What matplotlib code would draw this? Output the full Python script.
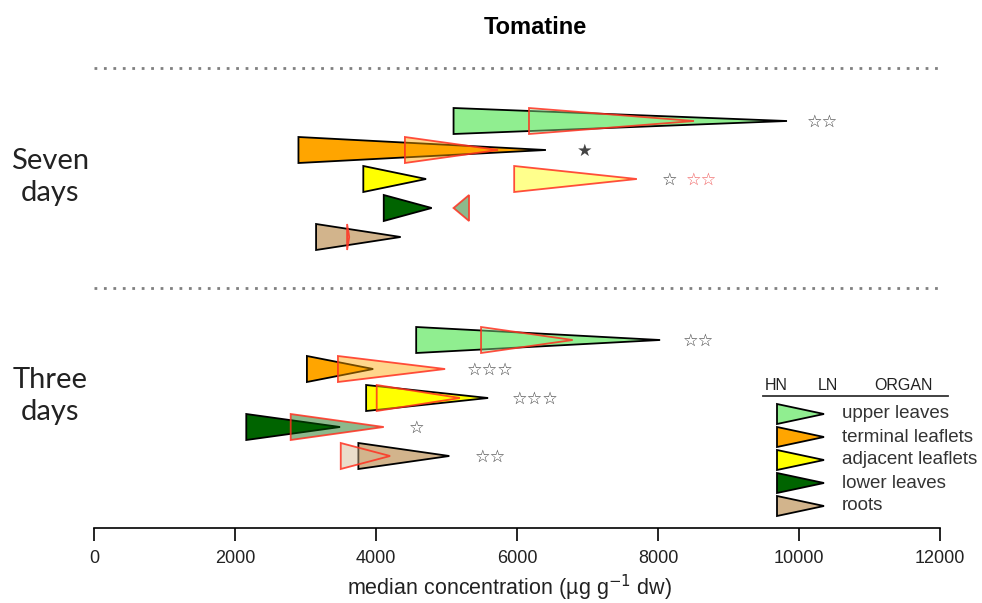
import matplotlib
matplotlib.use('Agg')
import matplotlib.pyplot as plt
from matplotlib.patches import Polygon

# ---------------- data ----------------
organs = ['upper leaves', 'terminal leaflets', 'adjacent leaflets', 'lower leaves', 'roots']
organ_colors = ['#90EE90', '#FFA500', '#FFFF00', '#006400', '#D2B48C']
groups = ['Seven\ndays', 'Three\ndays']

# triangles: base (start) -> apex (end), median concentration (ug/g dw)
seven_hn_start = [5100, 2900, 3820, 4110, 3150]
seven_hn_end = [9830, 6410, 4710, 4790, 4350]
seven_ln_start = [6170, 4410, 5960, 5320, 3590]
seven_ln_end = [8510, 5730, 7700, 5100, 3620]

three_hn_start = [4570, 3020, 3860, 2160, 3750]
three_hn_end = [8030, 3960, 5590, 3490, 5040]
three_ln_start = [5490, 3460, 4010, 2790, 3500]
three_ln_end = [6790, 4980, 5190, 4110, 4200]

# significance stars (text, x position in data units)
seven_star_text = ['☆☆', '★', '☆', '', '']
seven_star_x = [10340, 6965, 8160, 0, 0]
seven_ln_star_text = ['', '', '☆☆', '', '']
seven_ln_star_x = [0, 0, 8610, 0, 0]
three_star_text = ['☆☆', '☆☆☆', '☆☆☆', '☆', '☆☆']
three_star_x = [8570, 5620, 6255, 4580, 5620]

xticks = [0, 2000, 4000, 6000, 8000, 10000, 12000]

# ---------------- layout ----------------
W, H = 982, 603
fig = plt.figure(figsize=(W / 100, H / 100), dpi=100)
ax = fig.add_axes([94 / W, 0, 846 / W, 1])
ax.set_xlim(0, 12000)
ax.set_ylim(H, 0)

group_centers = [179, 398]
row_offsets = [-58, -29, 0, 29, 58]
half_h = 13
sans = ['Liberation Sans', 'DejaVu Sans']


def tri(x0, x1, yc, hh, fc, ec, lw, alpha=1.0, z=2):
    p = Polygon([(x0, yc - hh), (x0, yc + hh), (x1, yc)], closed=True,
                facecolor=fc, edgecolor=ec, linewidth=lw, alpha=alpha,
                zorder=z, joinstyle='miter', clip_on=False)
    ax.add_patch(p)


datasets = [
    (seven_hn_start, seven_hn_end, seven_ln_start, seven_ln_end),
    (three_hn_start, three_hn_end, three_ln_start, three_ln_end),
]
star_sets = [
    [(seven_star_text, seven_star_x, '#444444'), (seven_ln_star_text, seven_ln_star_x, '#F06060')],
    [(three_star_text, three_star_x, '#444444')],
]

for g, (hs, he, ls, le) in enumerate(datasets):
    for i in range(len(organs)):
        yc = group_centers[g] + row_offsets[i]
        tri(hs[i], he[i], yc, half_h, organ_colors[i], 'black', 1.3, z=2)
        tri(ls[i], le[i], yc, half_h, organ_colors[i], 'none', 0, alpha=0.45, z=3)
        tri(ls[i], le[i], yc, half_h, 'none', '#FF3020', 1.3, alpha=0.85, z=4)
    for texts, xs, col in star_sets[g]:
        for i, t in enumerate(texts):
            if t:
                yc = group_centers[g] + row_offsets[i]
                ax.text(xs[i], yc + 1, t, ha='center', va='center', fontsize=12.5,
                        color=col, family=['DejaVu Sans'], zorder=5)
    fig.text(50 / W, 1 - (group_centers[g] - 2) / H, groups[g], ha='center', va='center',
             fontsize=21, family=['Lato', 'DejaVu Sans'], color='#222222', linespacing=1.3)

# dotted separators
for yd in [68, 288]:
    ax.plot([0, 12000], [yd, yd], linestyle=(0, (1, 2.4)), color='#808080', lw=2, zorder=1)

# axis
for s in ['left', 'top', 'right']:
    ax.spines[s].set_visible(False)
ax.spines['bottom'].set_position(('data', 528))
ax.spines['bottom'].set_linewidth(1.2)
ax.set_yticks([])
ax.set_xticks(xticks)
ax.set_xticklabels([str(t) for t in xticks], family=sans, fontsize=13, color='#222222')
ax.tick_params(axis='x', length=9, width=1.2, pad=7, direction='out')
ax.text(5900, 588, 'median concentration (µg g$^{-1}$ dw)', ha='center', va='center',
        fontsize=15.5, family=sans, color='#222222')

# title
fig.text(535 / W, 1 - 27 / H, 'Tomatine', ha='center', va='center', fontsize=17,
         fontweight='bold', family=sans)

# legend (HN style triangles)
def px2x(px):
    return (px - 94) / 846 * 12000

leg_y0 = 414
leg_dy = 23
ax.text(px2x(776), 385, 'HN', ha='center', va='center', fontsize=11.5, family=sans, color='#222222')
ax.text(px2x(828), 385, 'LN', ha='center', va='center', fontsize=11.5, family=sans, color='#222222')
ax.text(px2x(903), 385, 'ORGAN', ha='center', va='center', fontsize=11.5, family=sans, color='#222222')
ax.plot([px2x(763), px2x(948)], [396, 396], color='#333333', lw=1.3, clip_on=False)
for i, name in enumerate(organs):
    yc = leg_y0 + i * leg_dy
    tri(px2x(777), px2x(824), yc, 10, organ_colors[i], 'black', 1.3)
    ax.text(px2x(842), yc, name, ha='left', va='center', fontsize=13.5, family=sans,
            color='#333333', clip_on=False)

fig.savefig('out.png', dpi=100)
